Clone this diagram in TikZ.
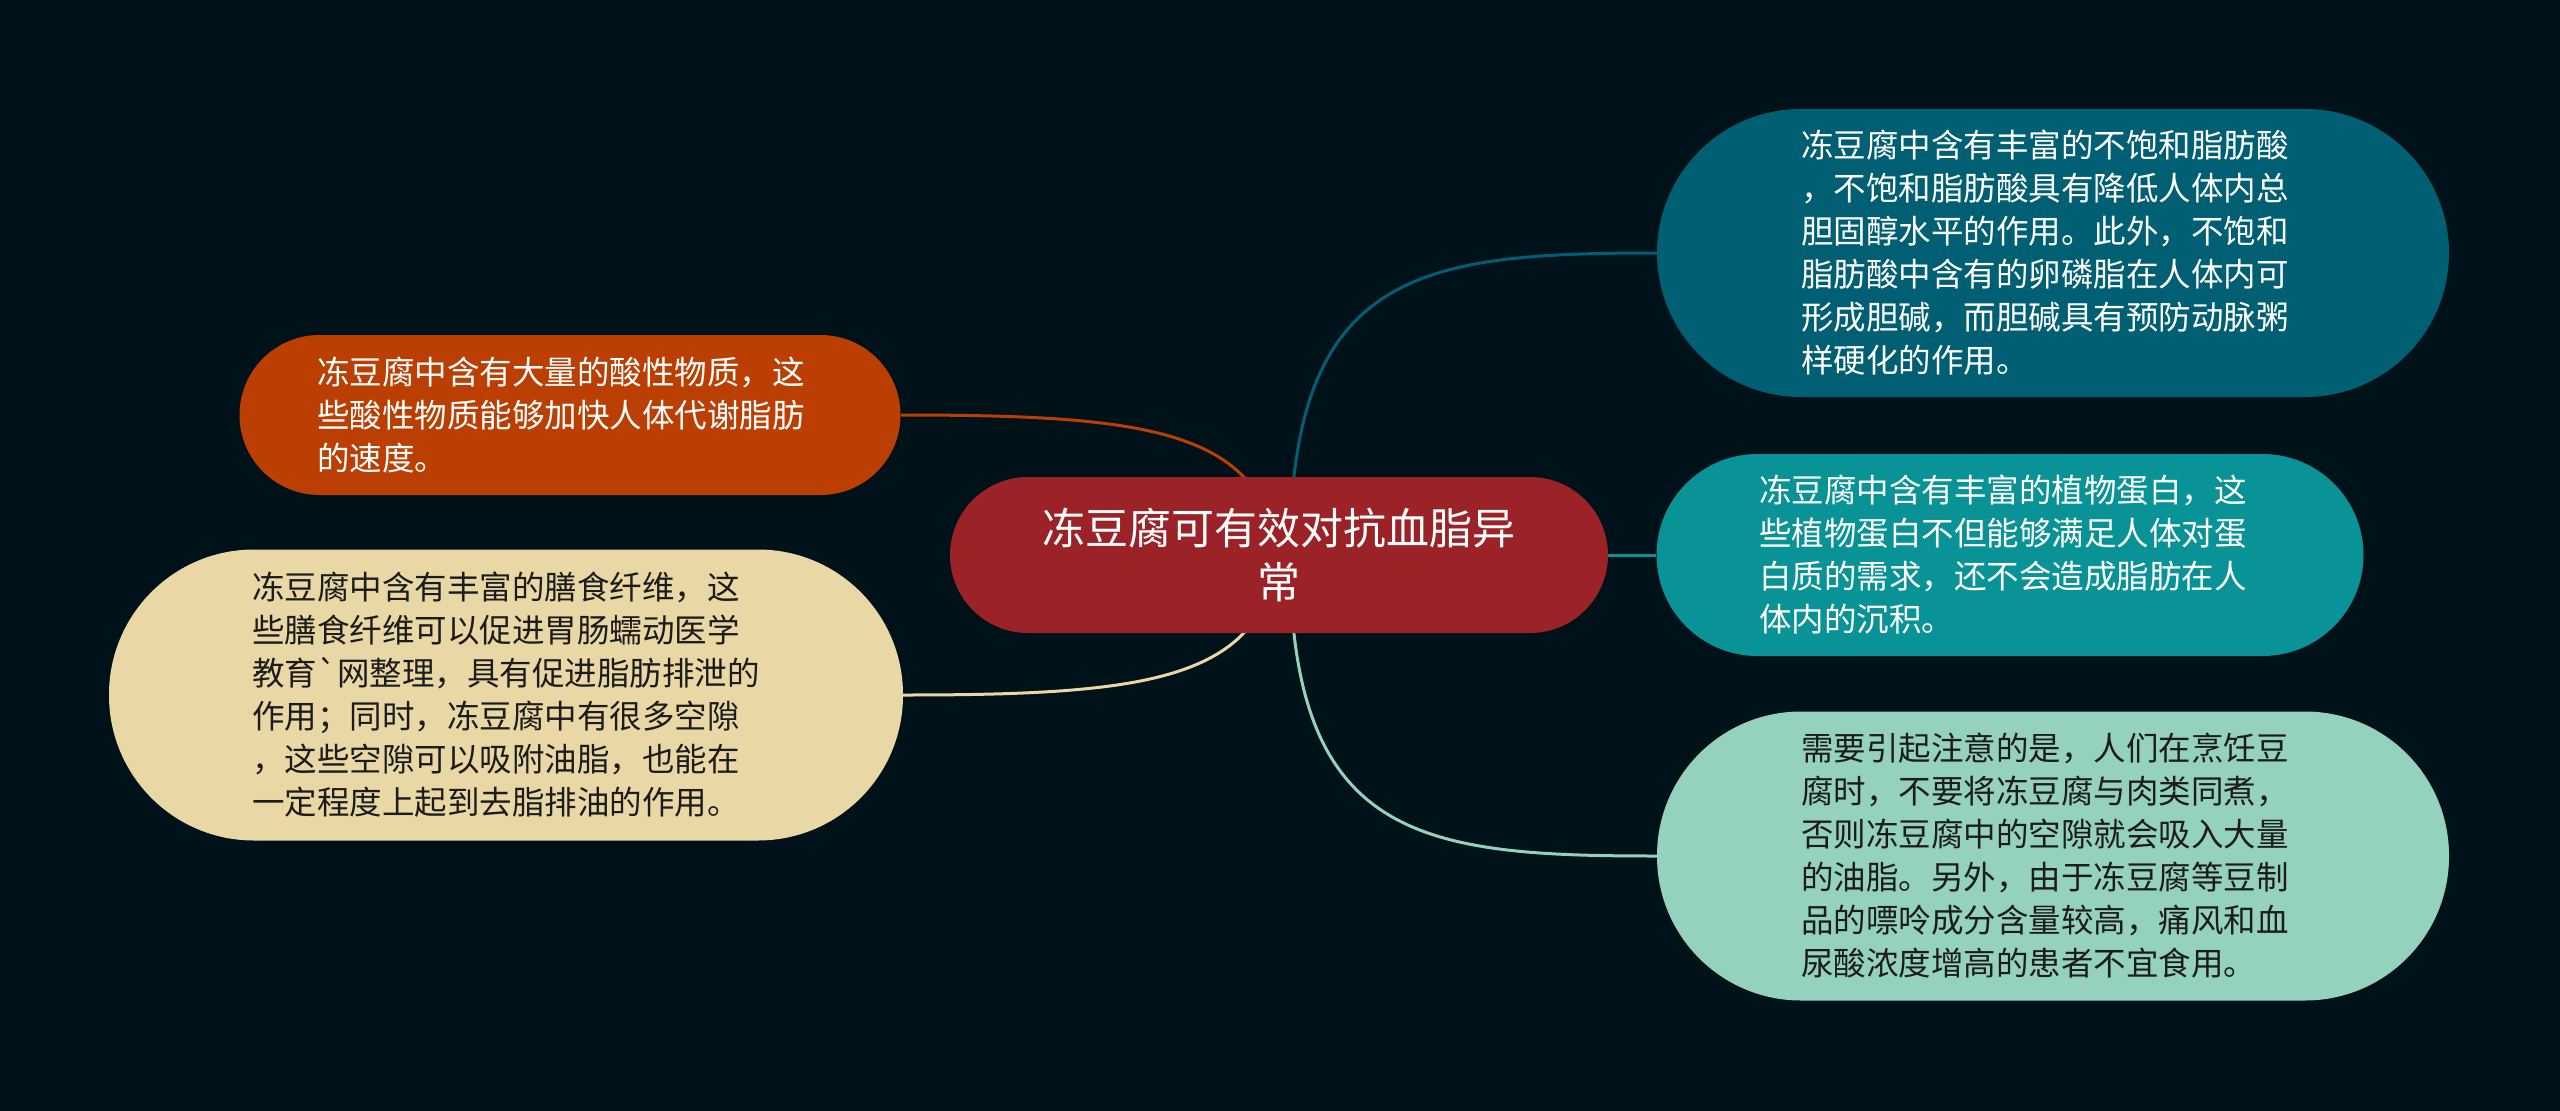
\documentclass[tikz,border=0pt]{standalone}
\usepackage{fontspec}
\newfontfamily\cjk{Noto Sans CJK SC}
\definecolor{bgc}{HTML}{001219}
\definecolor{cred}{HTML}{9B2226}
\definecolor{cdteal}{HTML}{005F73}
\definecolor{cteal}{HTML}{0A9396}
\definecolor{cmint}{HTML}{94D2BD}
\definecolor{corange}{HTML}{BB3E03}
\definecolor{csand}{HTML}{E9D8A6}
\definecolor{darktxt}{HTML}{1C1C1C}
\pgfdeclarelayer{bglayer}
\pgfdeclarelayer{lines}
\pgfsetlayers{bglayer,lines,main}
\tikzset{
  pill/.style={draw=none, inner sep=0pt},
  ptext/.style={inner sep=0pt, align=left,
    font=\cjk\fontsize{32.5}{43}\selectfont},
  rootpill/.style={draw=none, inner sep=0pt, align=center, text=white,
    font=\cjk\fontsize{43}{54}\selectfont},
  conn/.style={line width=3pt}
}
\begin{document}
\begin{tikzpicture}[x=1pt,y=-1pt]
\begin{pgfonlayer}{bglayer}
\fill[bgc] (0,0) rectangle (2560,1111);
\end{pgfonlayer}
\useasboundingbox (0,0) rectangle (2560,1111);

\node[rootpill, fill=cred, minimum width=658pt, minimum height=156pt, rounded corners=78pt] (c) at (1279,555)
  {冻豆腐可有效对抗血脂异\\常};

\node[pill, fill=cdteal, minimum width=792pt, minimum height=288pt, rounded corners=144pt] (tr) at (2053,253) {};
\node[ptext, text=white] (trt) at ([xshift=-8pt]tr.center)
  {冻豆腐中含有丰富的不饱和脂肪酸\\，不饱和脂肪酸具有降低人体内总\\胆固醇水平的作用。此外，不饱和\\脂肪酸中含有的卵磷脂在人体内可\\形成胆碱，而胆碱具有预防动脉粥\\样硬化的作用。};

\node[pill, fill=cteal, minimum width=707pt, minimum height=202pt, rounded corners=101pt] (mr) at (2010,555) {};
\node[ptext, text=white] (mrt) at ([xshift=-7pt]mr.center)
  {冻豆腐中含有丰富的植物蛋白，这\\些植物蛋白不但能够满足人体对蛋\\白质的需求，还不会造成脂肪在人\\体内的沉积。};

\node[pill, fill=cmint, minimum width=792pt, minimum height=289pt, rounded corners=144pt] (br) at (2053,856) {};
\node[ptext, text=darktxt] (brt) at ([xshift=-8pt]br.center)
  {需要引起注意的是，人们在烹饪豆\\腐时，不要将冻豆腐与肉类同煮，\\否则冻豆腐中的空隙就会吸入大量\\的油脂。另外，由于冻豆腐等豆制\\品的嘌呤成分含量较高，痛风和血\\尿酸浓度增高的患者不宜食用。};

\node[pill, fill=corange, minimum width=661pt, minimum height=160pt, rounded corners=80pt] (tl) at (570,415) {};
\node[ptext, text=white] (tlt) at ([xshift=-9pt]tl.center)
  {冻豆腐中含有大量的酸性物质，这\\些酸性物质能够加快人体代谢脂肪\\的速度。};

\node[pill, fill=csand, minimum width=794pt, minimum height=291pt, rounded corners=145pt] (lb) at (506,695) {};
\node[ptext, text=darktxt] (lbt) at ([xshift=0pt]lb.center)
  {冻豆腐中含有丰富的膳食纤维，这\\些膳食纤维可以促进胃肠蠕动医学\\教育\textasciigrave 网整理，具有促进脂肪排泄的\\作用；同时，冻豆腐中有很多空隙\\，这些空隙可以吸附油脂，也能在\\一定程度上起到去脂排油的作用。};

\begin{pgfonlayer}{lines}
\coordinate (cr) at ([xshift=11pt]c.center);
\draw[conn, cdteal] (cr) .. controls (1290,270) and (1420,253) .. (tr.west);
\draw[conn, cteal] (c.east) -- (mr.west);
\draw[conn, cmint] (cr) .. controls (1290,840) and (1420,856) .. (br.west);
\draw[conn, corange] (tl.east) .. controls (1150,415) and (1260,430) .. (c.center);
\draw[conn, csand] (lb.east) .. controls (1150,695) and (1260,680) .. (c.center);
\end{pgfonlayer}
\end{tikzpicture}
\end{document}
